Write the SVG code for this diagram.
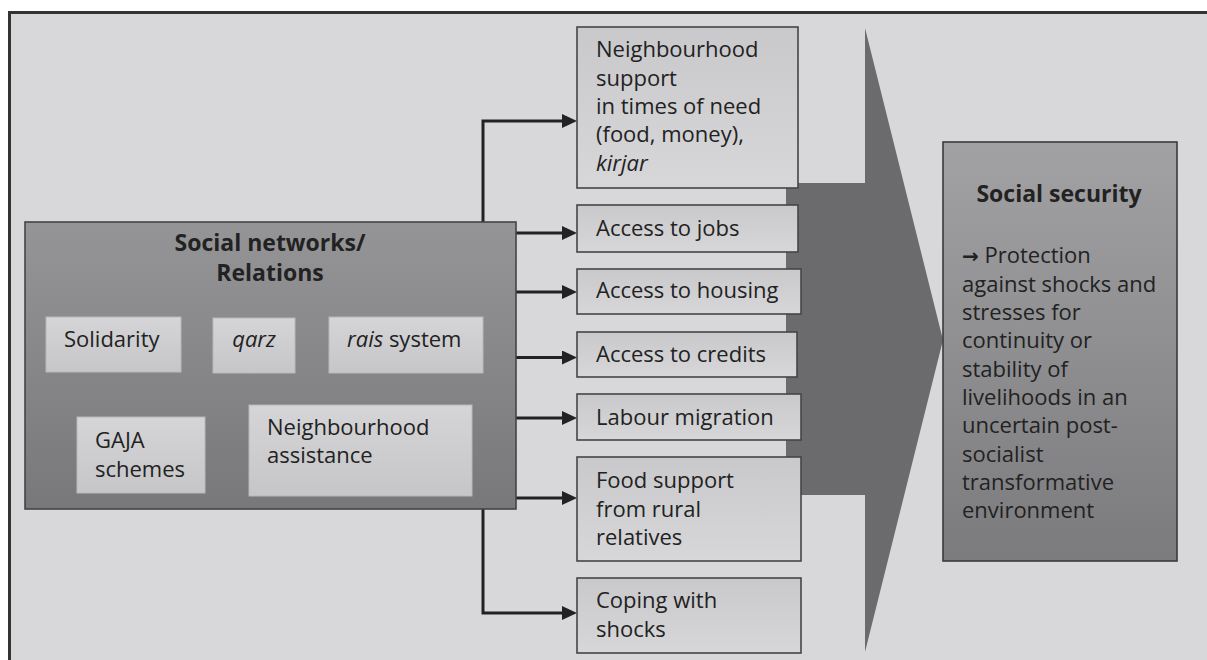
<svg xmlns="http://www.w3.org/2000/svg" width="1207" height="660" viewBox="0 0 1207 660">
<defs>
<linearGradient id="gBig" x1="0" y1="0" x2="0" y2="1"><stop offset="0" stop-color="#959598"/><stop offset="1" stop-color="#78787b"/></linearGradient>
<linearGradient id="gSec" x1="0" y1="0" x2="0" y2="1"><stop offset="0" stop-color="#a2a2a4"/><stop offset="1" stop-color="#7b7b7e"/></linearGradient>
<linearGradient id="gInner" x1="0" y1="0" x2="0" y2="1"><stop offset="0" stop-color="#d5d5d7"/><stop offset="1" stop-color="#c6c6c8"/></linearGradient>
<linearGradient id="gBox" x1="0" y1="0" x2="0" y2="1"><stop offset="0" stop-color="#c9c9cb"/><stop offset="1" stop-color="#d7d7d9"/></linearGradient>
<marker id="ah" markerUnits="userSpaceOnUse" markerWidth="15" markerHeight="14" refX="8" refY="7" orient="auto"><path d="M0,0 L15,7 L0,14 z" fill="#222"/></marker>
</defs>
<style>
text{font-family:"Open Sans","Liberation Sans",sans-serif;font-size:22px;fill:#222}
.b{font-weight:bold;font-size:23px}
.i{font-style:italic}
.arr{font-family:"DejaVu Sans",sans-serif;font-weight:bold}
.box{fill:url(#gBox);stroke:#454545;stroke-width:1.6}
.inner{fill:url(#gInner);stroke:#b8b8ba;stroke-width:1}
.con{fill:none;stroke:#222;stroke-width:3;marker-end:url(#ah)}
</style>
<rect x="0" y="0" width="1207" height="660" fill="#ffffff"/>
<rect x="9" y="12" width="1198" height="648" fill="#d8d8da"/>
<path d="M9.5,660 L9.5,12.5 L1207,12.5" fill="none" stroke="#333" stroke-width="3"/>

<g id="bigarrow"><polygon points="786,183 865,183 865,28 943,340 865,652 865,495 786,495" fill="#6b6b6e"/></g>

<g id="connectors">
<path class="con" d="M483,222 L483,121 L570,121"/>
<path class="con" d="M516,233 L570,233"/>
<path class="con" d="M516,292 L570,292"/>
<path class="con" d="M503,357.5 L570,357.5"/>
<path class="con" d="M516,418 L570,418"/>
<path class="con" d="M516,498 L570,498"/>
<path class="con" d="M483,509 L483,613 L570,613"/>
</g>

<g id="social-networks">
<rect x="25" y="222" width="491" height="287" fill="url(#gBig)" stroke="#444" stroke-width="1.6"/>
<text class="b" x="270" y="251" text-anchor="middle">Social networks/</text>
<text class="b" x="270" y="281" text-anchor="middle">Relations</text>
</g>
<g id="solidarity"><rect class="inner" x="46" y="317" width="135" height="55"/><text x="64" y="347">Solidarity</text></g>
<g id="qarz"><rect class="inner" x="213" y="318" width="82" height="55"/><text class="i" x="254" y="347" text-anchor="middle">qarz</text></g>
<g id="rais"><rect class="inner" x="329" y="317" width="154" height="56"/><text x="347" y="347"><tspan class="i">rais</tspan> system</text></g>
<g id="gaja"><rect class="inner" x="77" y="417" width="128" height="76"/><text x="95" y="448">GAJA</text><text x="95" y="477">schemes</text></g>
<g id="neigh-assist"><rect class="inner" x="249" y="405" width="223" height="91"/><text x="267" y="435">Neighbourhood</text><text x="267" y="463">assistance</text></g>

<g id="neigh-support"><rect class="box" x="577" y="27" width="221" height="161"/>
<text x="596" y="57">Neighbourhood</text><text x="596" y="86">support</text><text x="596" y="114">in times of need</text><text x="596" y="142">(food, money),</text><text class="i" x="596" y="171">kirjar</text></g>
<g id="jobs"><rect class="box" x="577" y="205" width="221" height="47"/><text x="596" y="236">Access to jobs</text></g>
<g id="housing"><rect class="box" x="577" y="269" width="224" height="45"/><text x="596" y="298">Access to housing</text></g>
<g id="credits"><rect class="box" x="577" y="332" width="220" height="45"/><text x="596" y="362">Access to credits</text></g>
<g id="labour"><rect class="box" x="577" y="394" width="224" height="46"/><text x="596" y="425">Labour migration</text></g>
<g id="food"><rect class="box" x="577" y="457" width="224" height="104"/><text x="596" y="488">Food support</text><text x="596" y="517">from rural</text><text x="596" y="545">relatives</text></g>
<g id="coping"><rect class="box" x="577" y="578" width="224" height="75"/><text x="596" y="608">Coping with</text><text x="596" y="637">shocks</text></g>

<g id="social-security"><rect x="943" y="142" width="234" height="419" fill="url(#gSec)" stroke="#3a3a3a" stroke-width="1.6"/>
<text class="b" x="1059" y="202" text-anchor="middle">Social security</text>
<text x="962" y="263"><tspan class="arr" font-size="20">→</tspan> Protection</text>
<text x="962" y="292">against shocks and</text>
<text x="962" y="320">stresses for</text>
<text x="962" y="348">continuity or</text>
<text x="962" y="377">stability of</text>
<text x="962" y="405">livelihoods in an</text>
<text x="962" y="433">uncertain post-</text>
<text x="962" y="462">socialist</text>
<text x="962" y="490">transformative</text>
<text x="962" y="518">environment</text>
</g>
</svg>
